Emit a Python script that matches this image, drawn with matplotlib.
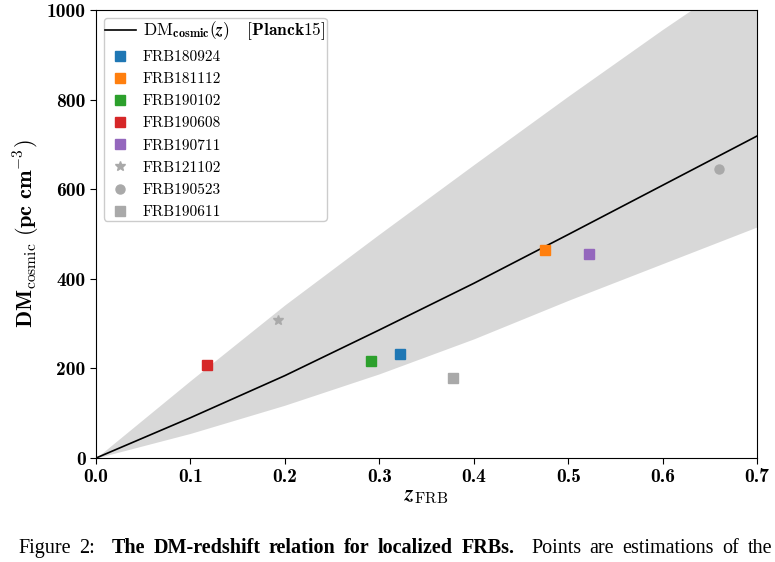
import matplotlib
matplotlib.use('Agg')
import matplotlib.pyplot as plt

plt.rcParams['mathtext.fontset'] = 'cm'
plt.rcParams['font.family'] = ['cmr10', 'DejaVu Serif']
plt.rcParams['axes.formatter.use_mathtext'] = True

# DM_cosmic(z) curve and its spread
zGrid = [0.0, 0.1, 0.2, 0.3, 0.4, 0.5, 0.6, 0.7]
dmMean = [0, 90, 184, 286, 390, 499, 609, 719]
dmUpper = [0, 173, 342, 500, 655, 808, 957, 1100]
dmLower = [0, 55, 118, 188, 266, 352, 434, 516]

# localized FRBs
frbNames = ['FRB180924', 'FRB181112', 'FRB190102', 'FRB190608', 'FRB190711',
            'FRB121102', 'FRB190523', 'FRB190611']
frbZ = [0.3214, 0.4755, 0.291, 0.1178, 0.522, 0.1927, 0.66, 0.378]
frbDM = [232, 464, 217, 207, 455, 308, 645, 179]
frbColors = ['tab:blue', 'tab:orange', 'tab:green', 'tab:red', 'tab:purple',
             'darkgray', 'darkgray', 'darkgray']
frbMarkers = ['s', 's', 's', 's', 's', '*', 'o', 's']

# caption words: (text, bold, gap factor after word)
captionWords = [('Figure', False, 1), ('2:', False, 2), ('The', True, 1), ('DM-redshift', True, 1),
                ('relation', True, 1), ('for', True, 1), ('localized', True, 1),
                ('FRBs.', True, 2), ('Points', False, 1), ('are', False, 1),
                ('estimations', False, 1), ('of', False, 1), ('the', False, 0)]

fig = plt.figure(figsize=(7.75, 5.62), dpi=100)
ax = fig.add_axes([0.1239, 0.185, 0.853, 0.797])

ax.fill_between(zGrid, dmLower, dmUpper, color='gray', alpha=0.3, lw=0)
ax.plot(zGrid, dmMean, color='k', lw=1.2,
        label=r'$\mathrm{DM}_{\mathbf{cosmic}}(\boldsymbol{z})$   $\mathbf{[Planck15]}$')

for name, z, dm, c, m in zip(frbNames, frbZ, frbDM, frbColors, frbMarkers):
    ax.plot(z, dm, ls='none', marker=m, color=c, ms=6.5 if m != '*' else 7,
            label=name)

ax.set_xlim(0, 0.7)
ax.set_ylim(0, 1000)
ax.set_xticks([0.0, 0.1, 0.2, 0.3, 0.4, 0.5, 0.6, 0.7])
ax.set_xticklabels(['0.0', '0.1', '0.2', '0.3', '0.4', '0.5', '0.6', '0.7'])
ax.set_yticks([0, 200, 400, 600, 800, 1000])
ax.set_yticklabels(['0', '200', '400', '600', '800', '1000'])
ax.tick_params(labelsize=14, labelfontfamily='cmb10', length=4)

ax.set_xlabel(r'$\boldsymbol{z}_{\mathrm{FRB}}$', fontsize=16, labelpad=0)
ax.set_ylabel(r'$\mathbf{DM}_{\mathrm{cosmic}}\ \mathbf{(pc\ cm^{-3})}$', fontsize=16,
              labelpad=3)

leg = ax.legend(loc='upper left', fontsize=11, borderaxespad=0.5, handletextpad=0.45,
                labelspacing=0.55, borderpad=0.1, framealpha=1, edgecolor='#cccccc',
                fancybox=True)
leg.get_texts()[0].set_fontsize(12.5)

# justified caption line under the plot
fig.canvas.draw()
renderer = fig.canvas.get_renderer()
x0, x1, yBase = 18, 772, 9
texts = []
for word, bold, gap in captionWords:
    t = fig.text(0, yBase / 562, word, fontsize=14.5, family='Liberation Serif',
                 weight='bold' if bold else 'normal', ha='left', va='baseline')
    texts.append((t, gap, t.get_window_extent(renderer).width))
totalWords = sum(w for _, _, w in texts)
gapUnit = (x1 - x0 - totalWords) / sum(g for _, g, _ in texts)
xPos = x0
for t, gap, w in texts:
    t.set_x(xPos / 775)
    xPos += w + gap * gapUnit

fig.savefig('out.png', dpi=100)
